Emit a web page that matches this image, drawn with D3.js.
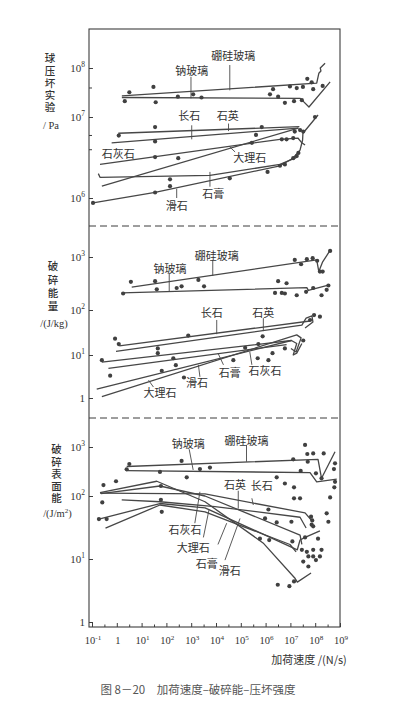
<!DOCTYPE html>
<html>
<head>
<meta charset="utf-8">
<script src="https://cdn.jsdelivr.net/npm/d3@7"></script>
<style>
  body { margin: 0; background: #fff; }
  svg { display: block; }
  .num { font-family: "Liberation Serif", "DejaVu Serif", serif; fill: #333; }
  .cjk { font-family: "Noto Sans CJK SC", sans-serif; fill: #333; }
  .vert { writing-mode: vertical-rl; text-orientation: upright; }
</style>
</head>
<body>
<svg id="chart" width="399" height="726"></svg>
<script>
// ---------------- data (x = 加荷速度 N/s) ----------------
const xTicks = [1e-1, 1, 1e1, 1e2, 1e3, 1e4, 1e5, 1e6, 1e7, 1e8, 1e9];

// panel 1 : 球压坏实验 / Pa
const p1Ticks = [1e6, 1e7, 1e8];
const p1BoroLine = [[1.6, 2.7e7], [1.15e8, 4.9e7], [1.4e8, 7.8e7], [1.7e8, 8.7e7], [1.6e8, 1e8], [2.5e8, 1.25e8]];
const p1SodaLine = [[1.6, 2.5e7], [2.5e7, 2.4e7], [5.6e7, 1.6e7], [4e8, 5.2e7]];
const p1GlassPts = [[2.1, 2.1e7], [3.2, 3.2e7], [30, 4.1e7], [37, 2e7], [290, 2.6e7], [1200, 2.9e7], [2600, 2.5e7],
  [1.5e6, 2.9e7], [2e6, 3.7e7], [3.2e6, 2.6e7], [6e6, 1.95e7], [9.6e6, 4.2e7], [1.4e7, 2.1e7], [1.8e7, 3.9e7],
  [2.9e7, 2.2e7], [3.2e7, 4.1e7], [4.8e7, 6e7], [7.2e7, 5.1e7], [8.3e7, 3.7e7], [2e8, 4.3e7]];
const p1Quartz = [[1.15, 6.3e6], [2.3e7, 7.6e6]];
const p1Feldspar = [[0.62, 4.8e6], [2.1e7, 7.3e6]];
const p1Limestone = [[0.21, 2.6e6], [3.8e6, 5.3e6], [2e7, 5.5e6], [2.9e7, 4.8e6], [3.9e7, 4.5e6]];
const p1Marble = [[0.25, 1.4e6], [2.1e7, 7.3e6]];
const p1Gypsum = [[0.18, 2e6], [0.21, 1.8e6], [5700, 1.9e6], [3.8e6, 2.6e6], [1.9e7, 3.2e6]];
const p1Talc = [[0.11, 8.7e5], [35, 1.17e6], [3.8e6, 2.5e6], [1.27e7, 3.1e6], [2.45e7, 3.9e6], [3.1e7, 5.2e6], [3.2e7, 6.3e6], [1.3e8, 1.1e7]];
const p1RockPts = [[1.2, 5.9e6], [35, 7.5e6], [35, 5e6], [35, 3.2e6], [300, 3.1e6], [140, 1.7e6], [140, 1.4e6], [35, 1.17e6],
  [3.6e4, 1.75e6], [1.2e6, 2.1e6], [7e5, 7.5e6], [4.1e5, 6e6], [2.8e5, 4.8e6], [4.5e6, 5.3e6], [7e6, 5.3e6], [1.3e7, 5.5e6],
  [1.5e7, 6.6e6], [2.45e7, 6.9e6], [3.3e7, 6.6e6], [3.8e6, 2.5e6], [6e6, 2.6e6], [1.3e7, 3.1e6], [1.8e7, 3.3e6],
  [2.1e7, 3.6e6], [9.8e7, 1e7], [0.11, 8.7e5]];
const p1Labels = [
  ["硼硅玻璃", [5e4, 1.85e8], [[3.6e4, 1.15e8], [3.6e4, 3.5e7]]],
  ["钠玻璃", [1050, 9.1e7], [[980, 6.6e7], [980, 2.4e7]]],
  ["长石", [830, 1.1e7], [[1050, 7.9e6], [1050, 5.3e6]]],
  ["石英", [3e4, 1.1e7], [[3.2e4, 8.3e6], [3.2e4, 6.7e6]]],
  ["石灰石", [1.15, 3.6e6], null],
  ["大理石", [2.3e5, 3.2e6], [[5.9e4, 3.7e6], [3.5e4, 4.3e6]]],
  ["石膏", [7800, 1.14e6], [[5700, 1.38e6], [5700, 2.1e6]]],
  ["滑石", [260, 8.2e5], [[260, 1e6], [260, 1.3e6]]]
];

// panel 2 : 破碎能量 /(J/kg)
const p2Ticks = [1, 10, 100, 1000];
const p2BoroLine = [[4, 270], [1.15e8, 880], [1.4e8, 530], [2e8, 810], [3.7e8, 1260]];
const p2SodaLine = [[1.58, 210], [4.6e7, 265], [5.3e7, 235], [3.4e8, 295]];
const p2GlassPts = [[3.7, 340], [35, 350], [41, 245], [260, 260], [410, 280], [1950, 370], [3300, 280], [1.8, 205],
  [3.2e6, 350], [7e6, 320], [2.4e6, 210], [4.5e6, 210], [6e6, 205], [1.8e7, 190], [4.3e7, 220], [8.3e7, 260],
  [1.8e8, 190], [2.9e8, 240], [3.4e8, 290], [1.5e7, 880], [2.7e7, 730], [4.6e7, 910], [7.9e7, 950], [1.2e8, 850],
  [1.55e8, 530], [2e8, 530], [4e8, 1300]];
const p2Quartz = [[1.26, 16], [6.2e7, 57]];
const p2Feldspar = [[0.93, 12], [2.9e7, 46], [4.3e7, 66], [7.4e7, 74], [8.1e7, 54], [3.9e7, 40]];
const p2Limestone = [[0.25, 6.8], [1.1e7, 21], [1.8e7, 18], [1.3e7, 10], [1.8e7, 11], [2.9e7, 18]];
const p2Gypsum = [[0.46, 4.9], [7e6, 17]];
const p2Talc = [[0.155, 1.6], [1.1e7, 21]];
const p2Marble = [[0.25, 1.07], [1.8e7, 28], [2.7e7, 24], [1.7e7, 11.7], [1.05e7, 14]];
const p2RockPts = [[0.85, 23], [1.2, 17.5], [0.25, 7.6], [0.54, 3.3], [45, 14], [45, 11], [65, 4.3], [190, 8.4],
  [240, 5.8], [510, 3], [760, 27], [5e4, 7.6], [1.5e5, 14.5], [4.8e5, 8.4], [7.6e5, 26], [5.1e5, 17.5],
  [1.3e6, 7.6], [1.9e6, 11], [6e6, 14], [3.3e7, 21], [6.2e7, 60], [9e7, 77], [1.55e8, 71]];
const p2Labels = [
  ["硼硅玻璃", [1.07e4, 1090], [[7400, 880], [7400, 440]]],
  ["钠玻璃", [140, 630], [[130, 490], [130, 220]]],
  ["长石", [6700, 92], [[1.07e4, 60], [1.07e4, 29]]],
  ["石英", [8.1e5, 89], [[8.1e5, 66], [8.1e5, 34]]],
  ["石灰石", [9.5e5, 4.5], [[2.3e5, 11.8], [2.8e5, 5.9]]],
  ["石膏", [3.6e4, 4.1], [[1.2e4, 11], [2e4, 5.9]]],
  ["滑石", [1700, 2.4], [[1950, 5.9], [2250, 3.1]]],
  ["大理石", [55, 1.4], [[19, 2.6], [30, 1.8]]]
];

// panel 3 : 破碎表面能 /(J/m2)
const p3Ticks = [1, 10, 100, 1000];
const p3BoroLine = [[2.5, 400], [1.3e8, 560], [1.8e8, 230], [6.3e8, 800]];
const p3SodaLine = [[2.5, 330], [6.2e7, 300], [1.15e8, 195], [7.4e8, 220]];
const p3GlassPts = [[2.5, 350], [3.2, 450], [55, 310], [410, 520], [660, 240], [2250, 355], [5700, 380], [1.3e7, 560],
  [2.6e7, 325], [3.9e7, 1100], [4.8e7, 720], [5e7, 500], [8.3e7, 740], [1.07e8, 290], [2.2e8, 740], [6.3e8, 465],
  [5.7e8, 355], [1.8e8, 230], [6.3e8, 195]];
const p3Quartz = [[0.21, 114], [3600, 110], [3.9e7, 54], [6.8e7, 42]];
const p3Feldspar = [[1.58, 87], [55, 81], [9100, 68], [2.45e7, 46], [4.3e7, 31]];
const p3Talc = [[0.21, 117], [41, 200], [3600, 81], [7.9e5, 18], [1.5e7, 5], [1.9e7, 4.3], [6.8e7, 6]];
const p3Limestone = [[0.23, 112], [55, 160], [3600, 100], [2.45e7, 24], [2.9e7, 17]];
const p3Marble = [[0.19, 43], [55, 76], [3600, 65], [1.9e7, 14], [2.45e7, 20], [3.9e7, 22], [1.55e8, 28]];
const p3Gypsum = [[0.35, 31], [55, 72], [3600, 56], [9.6e6, 17], [1.7e7, 13]];
const p3RockPts = [[0.29, 167], [0.93, 200], [0.26, 79], [0.19, 43], [0.39, 43], [60, 160], [60, 87], [65, 56],
  [2.8e6, 240], [6e6, 180], [1.4e7, 150], [1.4e7, 92], [2.45e7, 92], [4e8, 95], [1.3e6, 61], [2.8e6, 38],
  [9.5e5, 44], [1.1e7, 39], [5.9e5, 21], [1.4e6, 20], [1.2e7, 19], [6.8e7, 47], [7.6e7, 41], [7.2e7, 35],
  [2.9e8, 53], [3.4e8, 39], [2.9e7, 14], [4.6e7, 13], [8.3e7, 14], [1.8e8, 14], [5.3e7, 11], [8.3e7, 11],
  [1.55e8, 11], [1.07e8, 9.6], [3.3e7, 9.1], [5.3e7, 7.6], [3.1e6, 3.9], [9.1e6, 3.7], [1.4e7, 4.4],
  [5.9e8, 150], [3.9e7, 22], [1.3e8, 21], [8.3e7, 33]];
const p3Labels = [
  ["钠玻璃", [760, 1200], [[830, 900], [1200, 340]]],
  ["硼硅玻璃", [1.7e5, 1400], [[1.7e5, 1100], [1.7e5, 500]]],
  ["石英", [5.9e4, 175], [[7.9e4, 128], [7.9e4, 63]]],
  ["长石", [7e5, 167], [[2.8e5, 92], [3.2e5, 72]]],
  ["石灰石", [560, 30], [[1400, 37], [2250, 122]]],
  ["大理石", [1200, 15.5], [[3100, 22], [5200, 60]]],
  ["石膏", [4200, 8.5], [[1.2e4, 17], [2.7e4, 37]]],
  ["滑石", [3.6e4, 6.7], [[2.3e4, 9.6], [9.3e4, 44]]]
];

// ---------------- layout ----------------
var svg = d3.select("#chart");
var box = { left: 89, right: 340, top: 29, bottom: 627 };
var ink = "#3d3d3d";

var x = d3.scaleLog().domain([1e-1, 1e9]).range([92, 340]);

// the printed axes are not evenly spaced, so each panel gets a piecewise log scale
var panels = [
  {
    y: d3.scaleLog().domain([1e6, 1e7, 1e8]).range([198, 117, 68]),
    ticks: p1Ticks, minor: [4e7, 6e6, 4e6],
    lines: [p1BoroLine, p1SodaLine, p1Quartz, p1Feldspar, p1Limestone, p1Marble, p1Gypsum, p1Talc],
    pts: p1GlassPts.concat(p1RockPts), labels: p1Labels,
    title: "球压坏实验", tx: 50, ty: 53, step: 12.3, unit: ["/ Pa"], uy: 125
  },
  {
    y: d3.scaleLog().domain([1, 10, 100, 1000]).range([398, 355, 310, 257]),
    ticks: p2Ticks, minor: [],
    lines: [p2BoroLine, p2SodaLine, p2Quartz, p2Feldspar, p2Limestone, p2Gypsum, p2Talc, p2Marble],
    pts: p2GlassPts.concat(p2RockPts), labels: p2Labels,
    title: "破碎能量", tx: 53, ty: 261, step: 13.3, unit: ["/(J/kg)"], uy: 323
  },
  {
    y: d3.scaleLog().domain([1, 10, 100, 1000]).range([622, 559, 496, 447]),
    ticks: p3Ticks, minor: [],
    lines: [p3BoroLine, p3SodaLine, p3Quartz, p3Feldspar, p3Talc, p3Limestone, p3Marble, p3Gypsum],
    pts: p3GlassPts.concat(p3RockPts), labels: p3Labels,
    title: "破碎表面能", tx: 56.5, ty: 444, step: 12.3, unit: ["/(J/m", "2", ")"], uy: 513
  }
];

// write 10^k as "10" with a raised exponent
function powText(sel, v, size) {
  var k = Math.round(Math.log10(v));
  if (k === 0) { sel.text("1"); return; }
  sel.append("tspan").text("10");
  sel.append("tspan").attr("dy", -size * 0.42).attr("font-size", size * 0.68).text(k);
}

// frame + dashed panel separators
svg.append("rect")
  .attr("x", box.left).attr("y", box.top)
  .attr("width", box.right - box.left).attr("height", box.bottom - box.top)
  .attr("fill", "none").attr("stroke", ink).attr("stroke-width", 1.1);
[226, 418].forEach(function (yy) {
  svg.append("line")
    .attr("x1", box.left).attr("x2", box.right).attr("y1", yy).attr("y2", yy)
    .attr("stroke", ink).attr("stroke-width", 1).attr("stroke-dasharray", "7,4");
});

panels.forEach(function (p) {
  var g = svg.append("g");
  var line = d3.line().x(d => x(d[0])).y(d => p.y(d[1]));

  // left axis, ticks pointing inwards
  var ax = g.append("g").attr("transform", `translate(${box.left},0)`)
    .call(d3.axisLeft(p.y).tickValues(p.ticks).tickSize(-4).tickFormat(""));
  ax.select(".domain").remove();
  ax.selectAll("line").attr("stroke", ink);
  if (p.minor.length) {
    var mx = g.append("g").attr("transform", `translate(${box.left},0)`)
      .call(d3.axisLeft(p.y).tickValues(p.minor).tickSize(-3).tickFormat(""));
    mx.select(".domain").remove();
    mx.selectAll("line").attr("stroke", ink);
  }
  p.ticks.forEach(function (v) {
    g.append("text").attr("class", "num")
      .attr("x", 85).attr("y", p.y(v) + 4)
      .attr("text-anchor", "end").attr("font-size", 11)
      .call(powText, v, 11);
  });

  // vertical title written top to bottom as one text
  g.append("text").attr("class", "cjk vert")
    .attr("x", p.tx).attr("y", p.ty)
    .attr("font-size", 10.5).attr("font-weight", 500)
    .style("letter-spacing", (p.step - 10.5) + "px")
    .text(p.title);

  var u = g.append("text").attr("class", "num")
    .attr("x", p.tx + 1).attr("y", p.uy + 4)
    .attr("text-anchor", "middle").attr("font-size", 10.5);
  u.append("tspan").text(p.unit[0]);
  if (p.unit.length > 1) {
    u.append("tspan").attr("dy", -4).attr("font-size", 7).text(p.unit[1]);
    u.append("tspan").attr("dy", 4).text(p.unit[2]);
  }

  // curves
  g.selectAll(".curve")
    .data(p.lines)
    .join("path")
    .attr("class", "curve")
    .attr("d", line)
    .attr("fill", "none")
    .attr("stroke", "#474747")
    .attr("stroke-width", 1.3)
    .attr("stroke-linejoin", "round");

  // measured points
  g.selectAll(".dot")
    .data(p.pts)
    .join("circle")
    .attr("class", "dot")
    .attr("cx", d => x(d[0]))
    .attr("cy", d => p.y(d[1]))
    .attr("r", 2.1)
    .attr("fill", "#404040");

  // material labels with leader lines
  p.labels.forEach(function (l) {
    if (l[2]) {
      g.append("path")
        .attr("d", line(l[2]))
        .attr("fill", "none").attr("stroke", "#474747").attr("stroke-width", 0.9);
    }
    g.append("text").attr("class", "cjk")
      .attr("x", x(l[1][0])).attr("y", p.y(l[1][1]))
      .attr("text-anchor", "middle").attr("dominant-baseline", "central")
      .attr("font-size", 11).text(l[0]);
  });
});

// bottom axis
var xa = svg.append("g").attr("transform", `translate(0,${box.bottom})`)
  .call(d3.axisBottom(x).tickValues(xTicks).tickSize(-4).tickFormat(""));
xa.select(".domain").remove();
xa.selectAll("line").attr("stroke", ink);
var xm = svg.append("g").attr("transform", `translate(0,${box.bottom})`)
  .call(d3.axisBottom(x).tickValues(xTicks.slice(0, -1).map(v => v * Math.sqrt(10))).tickSize(-2.5).tickFormat(""));
xm.select(".domain").remove();
xm.selectAll("line").attr("stroke", ink);

xTicks.forEach(function (v) {
  svg.append("text").attr("class", "num")
    .attr("x", x(v) + 1).attr("y", box.bottom + 17)
    .attr("text-anchor", "middle").attr("font-size", 10.5)
    .call(powText, v, 10.5);
});

svg.append("text").attr("class", "cjk")
  .attr("x", 309).attr("y", 664)
  .attr("text-anchor", "middle").attr("font-size", 11)
  .text("加荷速度 /(N/s)");

svg.append("text").attr("class", "cjk")
  .attr("x", 198).attr("y", 694)
  .attr("text-anchor", "middle").attr("font-size", 11.5)
  .style("fill", "#555")
  .text("图 8－20　加荷速度–破碎能–压坏强度");
</script>
</body>
</html>
